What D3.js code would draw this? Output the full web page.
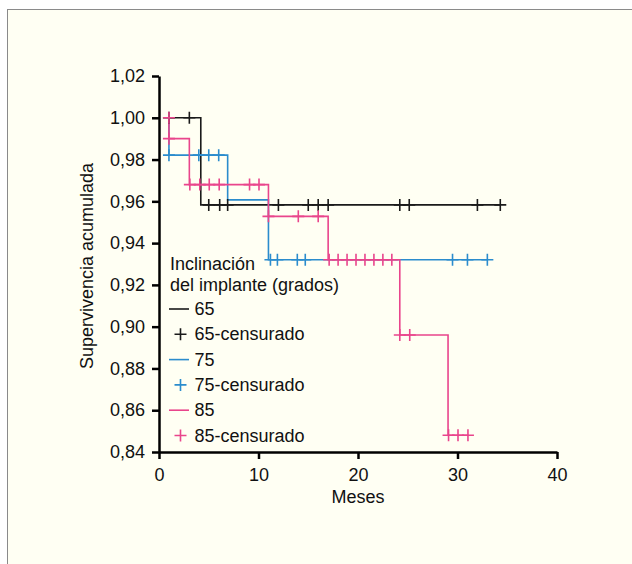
<!DOCTYPE html>
<html>
<head>
<meta charset="utf-8">
<script src="https://cdn.jsdelivr.net/npm/d3@7"></script>
<style>
  body { margin: 0; background: #fff; }
  text { font-family: "Liberation Sans", Arial, sans-serif; fill: #111; }
</style>
</head>
<body>
<div id="chart"></div>
<script>
var svgWidth = 632;
var svgHeight = 564;

// step curves (time in months, cumulative survival)
var t65 = [1, 4.2, 34.3];
var s65 = [1.0, 0.9583, 0.9583];
var t75 = [1, 1, 6.9, 11, 33];
var s75 = [1.0, 0.9821, 0.9607, 0.932, 0.932];
var t85 = [1, 1, 3.05, 11, 17, 24.2, 29.05, 31.1];
var s85 = [1.0, 0.99, 0.968, 0.9528, 0.932, 0.896, 0.848, 0.848];

// censored cases [month, survival]
var cens65 = [[1, 1.0], [3.05, 1.0], [5, 0.9583], [6.1, 0.9583], [6.9, 0.9583], [12, 0.9583],
  [15, 0.9583], [16, 0.9583], [17, 0.9583], [24.2, 0.9583], [25.15, 0.9583], [32, 0.9583], [34.3, 0.9583]];
var cens75 = [[1, 0.9821], [4, 0.9821], [5, 0.9821], [6, 0.9821], [11.2, 0.932], [11.9, 0.932],
  [13.9, 0.932], [14.7, 0.932], [29.5, 0.932], [31, 0.932], [33, 0.932]];
var cens85 = [[1, 1.0], [1, 0.99], [3.1, 0.968], [4.1, 0.968], [5.05, 0.968], [6.05, 0.968], [9.1, 0.968],
  [10.05, 0.968], [11, 0.9528], [14, 0.9528], [16, 0.9528], [17.1, 0.932], [18, 0.932], [18.9, 0.932],
  [19.8, 0.932], [20.7, 0.932], [21.6, 0.932], [22.5, 0.932], [23.4, 0.932], [24.2, 0.896], [25.2, 0.896],
  [29.1, 0.848], [30.05, 0.848], [31.05, 0.848]];

var xTicks = [0, 10, 20, 30, 40];
var yTicks = [0.84, 0.86, 0.88, 0.90, 0.92, 0.94, 0.96, 0.98, 1.00, 1.02];
var legendTitle = ["Inclinación", "del implante (grados)"];
var legendLabels = ["65", "65-censurado", "75", "75-censurado", "85", "85-censurado"];

var colors = { "65": "#1a1a1a", "75": "#2b8ccd", "85": "#e9458c" };
var fontSize = 18;

var svg = d3.select("#chart")
  .append("svg")
  .attr("width", svgWidth)
  .attr("height", svgHeight);

// panel background
svg.append("rect")
  .attr("x", 7.5)
  .attr("y", 9.5)
  .attr("width", 640)
  .attr("height", 600)
  .attr("fill", "#fffff3")
  .attr("stroke", "#8a8a8a")
  .attr("stroke-width", 1);

var xScale = d3.scaleLinear().domain([0, 40]).range([159, 557]);
var yScale = d3.scaleLinear().domain([0.84, 1.02]).range([452, 76]);

var fmt = function(d) { return d3.format(".2f")(d).replace(".", ","); };

// axes
var xAxis = svg.append("g")
  .attr("transform", "translate(0,452)")
  .call(d3.axisBottom(xScale).tickValues(xTicks).tickSize(7).tickPadding(9).tickSizeOuter(0));
var yAxis = svg.append("g")
  .attr("transform", "translate(159,0)")
  .call(d3.axisLeft(yScale).tickValues(yTicks).tickSize(7).tickPadding(7).tickFormat(fmt).tickSizeOuter(0));

[xAxis, yAxis].forEach(function(ax) {
  ax.select(".domain").attr("stroke", "#000").attr("stroke-width", 2.5);
  ax.selectAll(".tick line").attr("stroke", "#000").attr("stroke-width", 2.5);
  ax.selectAll(".tick text")
    .attr("font-size", fontSize)
    .attr("font-family", "Liberation Sans, Arial, sans-serif")
    .attr("fill", "#111");
});

// axis titles
svg.append("text")
  .attr("x", 358)
  .attr("y", 503)
  .attr("text-anchor", "middle")
  .attr("font-size", fontSize)
  .text("Meses");

svg.append("text")
  .attr("transform", "rotate(-90)")
  .attr("x", -266)
  .attr("y", 93)
  .attr("text-anchor", "middle")
  .attr("font-size", fontSize)
  .text("Supervivencia acumulada");

// survival step lines
var line = d3.line()
  .x(d => xScale(d[0]))
  .y(d => yScale(d[1]))
  .curve(d3.curveStepAfter);

var curves = [["65", t65, s65], ["75", t75, s75], ["85", t85, s85]];
curves.forEach(function(c) {
  var pts = c[1].map((t, i) => [t, c[2][i]]);
  svg.append("path")
    .datum(pts)
    .attr("d", line)
    .attr("fill", "none")
    .attr("stroke", colors[c[0]])
    .attr("stroke-width", 1.6);
});

// censored marks
function plus(g, x, y, color) {
  g.append("path")
    .attr("d", `M${x - 6},${y}H${x + 6}M${x},${y - 6}V${y + 6}`)
    .attr("stroke", color)
    .attr("stroke-width", 1.6)
    .attr("fill", "none");
}
var marks = [["65", cens65], ["75", cens75], ["85", cens85]];
marks.forEach(function(m) {
  var g = svg.append("g");
  m[1].forEach(function(d) {
    plus(g, xScale(d[0]), yScale(d[1]), colors[m[0]]);
  });
});

// legend
var legend = svg.append("g");
legendTitle.forEach(function(t, i) {
  legend.append("text")
    .attr("x", 170)
    .attr("y", 270 + i * 21)
    .attr("font-size", fontSize)
    .text(t);
});
legendLabels.forEach(function(lab, i) {
  var y = 315 + i * 25.3;
  var color = colors[lab.slice(0, 2)];
  if (i % 2 === 0) {
    legend.append("line")
      .attr("x1", 169).attr("x2", 189)
      .attr("y1", y - 6).attr("y2", y - 6)
      .attr("stroke", color)
      .attr("stroke-width", 1.6);
  } else {
    plus(legend, 180.5, y - 6, color);
  }
  legend.append("text")
    .attr("x", 194.5)
    .attr("y", y)
    .attr("font-size", fontSize)
    .text(lab);
});
</script>
</body>
</html>
